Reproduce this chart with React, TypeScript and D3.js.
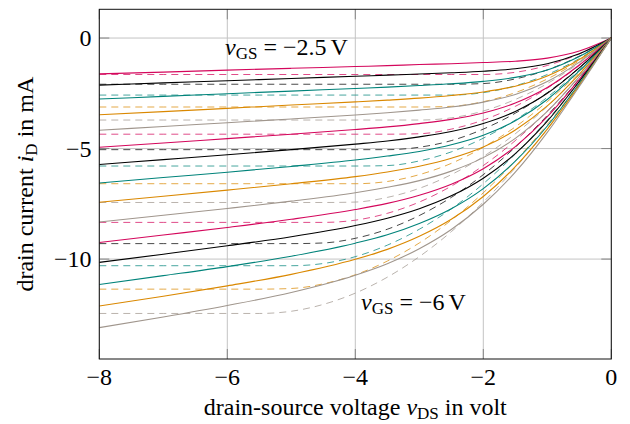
import React from "react";
import * as d3 from "d3";

// ---------- data ----------
const xTicks = [-8, -6, -4, -2, 0];
const yTicks = [-10, -5, 0];
const xDomain = [-8, 0];
const yDomain = [-14.52, 1.3];

const gateVoltages = [-2.5, -2.75, -3, -3.25, -3.5, -3.75, -4, -4.25, -4.5, -4.75, -5, -5.25, -5.5, -5.75, -6];
const colorCycle = ["#d4075c", "#000000", "#00837a", "#da8800", "#a0968d"];

// drain-source voltages of the sampled points
const vdsSolid = [-8, -7, -6, -5, -4, -3.5, -3, -2.5, -2, -1.5, -1, -0.5, 0];
const vdsDashed = [-8, -7, -6, -5.5, -5, -4.5, -4, -3.5, -3, -2.5, -2, -1.5, -1, -0.5, 0];

// solid curves (mA), one per gate voltage
const solid1 = [-1.62, -1.54, -1.45, -1.37, -1.29, -1.25, -1.2, -1.16, -1.11, -1.05, -0.91, -0.59, 0];
const solid2 = [-2.13, -2.03, -1.93, -1.83, -1.73, -1.68, -1.63, -1.57, -1.5, -1.39, -1.16, -0.71, 0];
const solid3 = [-2.76, -2.64, -2.52, -2.4, -2.28, -2.22, -2.15, -2.07, -1.96, -1.78, -1.45, -0.84, 0];
const solid4 = [-3.47, -3.33, -3.18, -3.03, -2.89, -2.81, -2.72, -2.6, -2.44, -2.18, -1.72, -0.97, 0];
const solid5 = [-4.17, -4.0, -3.83, -3.66, -3.48, -3.38, -3.26, -3.12, -2.9, -2.55, -1.97, -1.09, 0];
const solid6 = [-4.94, -4.75, -4.55, -4.35, -4.14, -4.02, -3.87, -3.68, -3.39, -2.94, -2.24, -1.22, 0];
const solid7 = [-5.72, -5.5, -5.28, -5.05, -4.8, -4.66, -4.47, -4.23, -3.87, -3.32, -2.5, -1.35, 0];
const solid8 = [-6.56, -6.31, -6.07, -5.81, -5.52, -5.34, -5.13, -4.83, -4.4, -3.74, -2.78, -1.49, 0];
const solid9 = [-7.43, -7.16, -6.88, -6.59, -6.27, -6.06, -5.8, -5.44, -4.93, -4.16, -3.07, -1.63, 0];
const solid10 = [-8.32, -8.02, -7.71, -7.38, -7.0, -6.75, -6.45, -6.02, -5.41, -4.54, -3.32, -1.75, 0];
const solid11 = [-9.25, -8.91, -8.57, -8.2, -7.76, -7.48, -7.11, -6.61, -5.91, -4.91, -3.56, -1.87, 0];
const solid12 = [-10.15, -9.78, -9.4, -8.99, -8.48, -8.15, -7.72, -7.14, -6.34, -5.23, -3.76, -1.96, 0];
const solid13 = [-11.15, -10.75, -10.34, -9.87, -9.28, -8.9, -8.39, -7.72, -6.81, -5.57, -3.98, -2.06, 0];
const solid14 = [-12.12, -11.68, -11.21, -10.69, -10.01, -9.56, -8.97, -8.2, -7.17, -5.82, -4.12, -2.13, 0];
const solid15 = [-13.1, -12.62, -12.1, -11.51, -10.73, -10.21, -9.53, -8.66, -7.52, -6.07, -4.27, -2.19, 0];

// dashed curves (mA), one per gate voltage
const dashed1 = [-1.65, -1.65, -1.65, -1.65, -1.65, -1.65, -1.65, -1.65, -1.65, -1.65, -1.65, -1.55, -1.24, -0.72, 0];
const dashed2 = [-2.09, -2.09, -2.09, -2.09, -2.09, -2.09, -2.09, -2.09, -2.09, -2.09, -2.06, -1.85, -1.44, -0.82, 0];
const dashed3 = [-2.58, -2.58, -2.58, -2.58, -2.58, -2.58, -2.58, -2.58, -2.58, -2.58, -2.47, -2.16, -1.65, -0.93, 0];
const dashed4 = [-3.12, -3.12, -3.12, -3.12, -3.12, -3.12, -3.12, -3.12, -3.12, -3.09, -2.88, -2.47, -1.85, -1.03, 0];
const dashed5 = [-3.71, -3.71, -3.71, -3.71, -3.71, -3.71, -3.71, -3.71, -3.71, -3.61, -3.3, -2.78, -2.06, -1.13, 0];
const dashed6 = [-4.35, -4.35, -4.35, -4.35, -4.35, -4.35, -4.35, -4.35, -4.33, -4.12, -3.71, -3.09, -2.27, -1.24, 0];
const dashed7 = [-5.05, -5.05, -5.05, -5.05, -5.05, -5.05, -5.05, -5.05, -4.94, -4.64, -4.12, -3.4, -2.47, -1.34, 0];
const dashed8 = [-5.79, -5.79, -5.79, -5.79, -5.79, -5.79, -5.79, -5.77, -5.56, -5.15, -4.53, -3.71, -2.68, -1.44, 0];
const dashed9 = [-6.59, -6.59, -6.59, -6.59, -6.59, -6.59, -6.59, -6.49, -6.18, -5.67, -4.94, -4.02, -2.88, -1.55, 0];
const dashed10 = [-7.44, -7.44, -7.44, -7.44, -7.44, -7.44, -7.42, -7.21, -6.8, -6.18, -5.36, -4.33, -3.09, -1.65, 0];
const dashed11 = [-8.34, -8.34, -8.34, -8.34, -8.34, -8.34, -8.24, -7.93, -7.42, -6.7, -5.77, -4.64, -3.3, -1.75, 0];
const dashed12 = [-9.3, -9.3, -9.3, -9.3, -9.3, -9.27, -9.06, -8.65, -8.03, -7.21, -6.18, -4.94, -3.5, -1.85, 0];
const dashed13 = [-10.3, -10.3, -10.3, -10.3, -10.3, -10.2, -9.89, -9.37, -8.65, -7.73, -6.59, -5.25, -3.71, -1.96, 0];
const dashed14 = [-11.36, -11.36, -11.36, -11.36, -11.33, -11.12, -10.71, -10.09, -9.27, -8.24, -7.0, -5.56, -3.91, -2.06, 0];
const dashed15 = [-12.46, -12.46, -12.46, -12.46, -12.36, -12.05, -11.54, -10.82, -9.89, -8.76, -7.42, -5.87, -4.12, -2.16, 0];

const solidSeries = [solid1, solid2, solid3, solid4, solid5, solid6, solid7, solid8, solid9, solid10, solid11, solid12, solid13, solid14, solid15];
const dashedSeries = [dashed1, dashed2, dashed3, dashed4, dashed5, dashed6, dashed7, dashed8, dashed9, dashed10, dashed11, dashed12, dashed13, dashed14, dashed15];

// ---------- layout ----------
const W = 630;
const H = 424;
const plot = { left: 99.3, right: 611.3, top: 9.3, bottom: 359 };
const FONT = "'Liberation Serif', 'Times New Roman', serif";
const FS = 24;
const SUB = 17;

const fmt = (v: number) => (v < 0 ? "\u2212" + Math.abs(v) : String(v));

export default function App() {
  const x = d3.scaleLinear().domain(xDomain).range([plot.left, plot.right]);
  const y = d3.scaleLinear().domain(yDomain).range([plot.bottom, plot.top]);

  const lineGen = (xs: number[]) =>
    d3
      .line<number>()
      .x((_, i) => x(xs[i]))
      .y((d) => y(d))
      .curve(d3.curveMonotoneX);

  const solidLine = lineGen(vdsSolid);
  const dashedLine = lineGen(vdsDashed);
  const tickLen = 10;

  return (
    <svg
      width={W}
      height={H}
      viewBox={`0 0 ${W} ${H}`}
      style={{ position: "absolute", left: 0, top: 0, background: "#fff" }}
      fontFamily={FONT}
    >
      <rect x={0} y={0} width={W} height={H} fill="#fff" />
      {/* grid */}
      {xTicks.map((t) => (
        <line key={"gx" + t} x1={x(t)} x2={x(t)} y1={plot.top} y2={plot.bottom} stroke="#c4c4c4" strokeWidth={1} />
      ))}
      {yTicks.map((t) => (
        <line key={"gy" + t} x1={plot.left} x2={plot.right} y1={y(t)} y2={y(t)} stroke="#c4c4c4" strokeWidth={1} />
      ))}
      {/* ticks */}
      {xTicks.map((t) => (
        <g key={"tx" + t} stroke="#858585" strokeWidth={1}>
          <line x1={x(t)} x2={x(t)} y1={plot.bottom} y2={plot.bottom - tickLen} />
          <line x1={x(t)} x2={x(t)} y1={plot.top} y2={plot.top + tickLen} />
        </g>
      ))}
      {yTicks.map((t) => (
        <g key={"ty" + t} stroke="#858585" strokeWidth={1}>
          <line x1={plot.left} x2={plot.left + tickLen} y1={y(t)} y2={y(t)} />
          <line x1={plot.right} x2={plot.right - tickLen} y1={y(t)} y2={y(t)} />
        </g>
      ))}

      {/* dashed curves */}
      {dashedSeries.map((s, i) => (
        <path
          key={"d" + i}
          d={dashedLine(s) || ""}
          fill="none"
          stroke={colorCycle[i % colorCycle.length]}
          strokeOpacity={0.72}
          strokeWidth={1}
          strokeDasharray="7,5"
        />
      ))}
      {/* solid curves */}
      {solidSeries.map((s, i) => (
        <path
          key={"s" + i}
          d={solidLine(s) || ""}
          fill="none"
          stroke={colorCycle[i % colorCycle.length]}
          strokeWidth={1.1}
        />
      ))}

      {/* frame */}
      <rect
        x={plot.left}
        y={plot.top}
        width={plot.right - plot.left}
        height={plot.bottom - plot.top}
        fill="none"
        stroke="#111"
        strokeWidth={1}
      />

      {/* tick labels */}
      {xTicks.map((t) => (
        <text key={"lx" + t} x={x(t)} y={385} fontSize={FS} textAnchor="middle" fill="#000">
          {fmt(t)}
        </text>
      ))}
      {yTicks.map((t) => (
        <text key={"ly" + t} x={91.5} y={y(t) + 8} fontSize={FS} textAnchor="end" fill="#000">
          {fmt(t)}
        </text>
      ))}

      {/* axis labels */}
      <text x={(plot.left + plot.right) / 2} y={415} fontSize={FS} textAnchor="middle" fill="#000">
        drain-source voltage <tspan fontStyle="italic">v</tspan>
        <tspan fontSize={SUB} dy={4}>DS</tspan>
        <tspan dy={-4}> in volt</tspan>
      </text>
      <text
        transform={`translate(33, ${(plot.top + plot.bottom) / 2}) rotate(-90)`}
        fontSize={FS}
        textAnchor="middle"
        fill="#000"
      >
        drain current <tspan fontStyle="italic">i</tspan>
        <tspan fontSize={SUB} dy={4}>D</tspan>
        <tspan dy={-4}> in mA</tspan>
      </text>

      {/* annotations */}
      <text x={225} y={55} fontSize={FS} fill="#000">
        <tspan fontStyle="italic">v</tspan>
        <tspan fontSize={SUB} dy={4}>GS</tspan>
        <tspan dy={-4}>{" = \u22122.5"}</tspan>
        <tspan dx={4}>V</tspan>
      </text>
      <text x={361} y={310} fontSize={FS} fill="#000">
        <tspan fontStyle="italic">v</tspan>
        <tspan fontSize={SUB} dy={4}>GS</tspan>
        <tspan dy={-4}>{" = \u22126"}</tspan>
        <tspan dx={4}>V</tspan>
      </text>
    </svg>
  );
}
